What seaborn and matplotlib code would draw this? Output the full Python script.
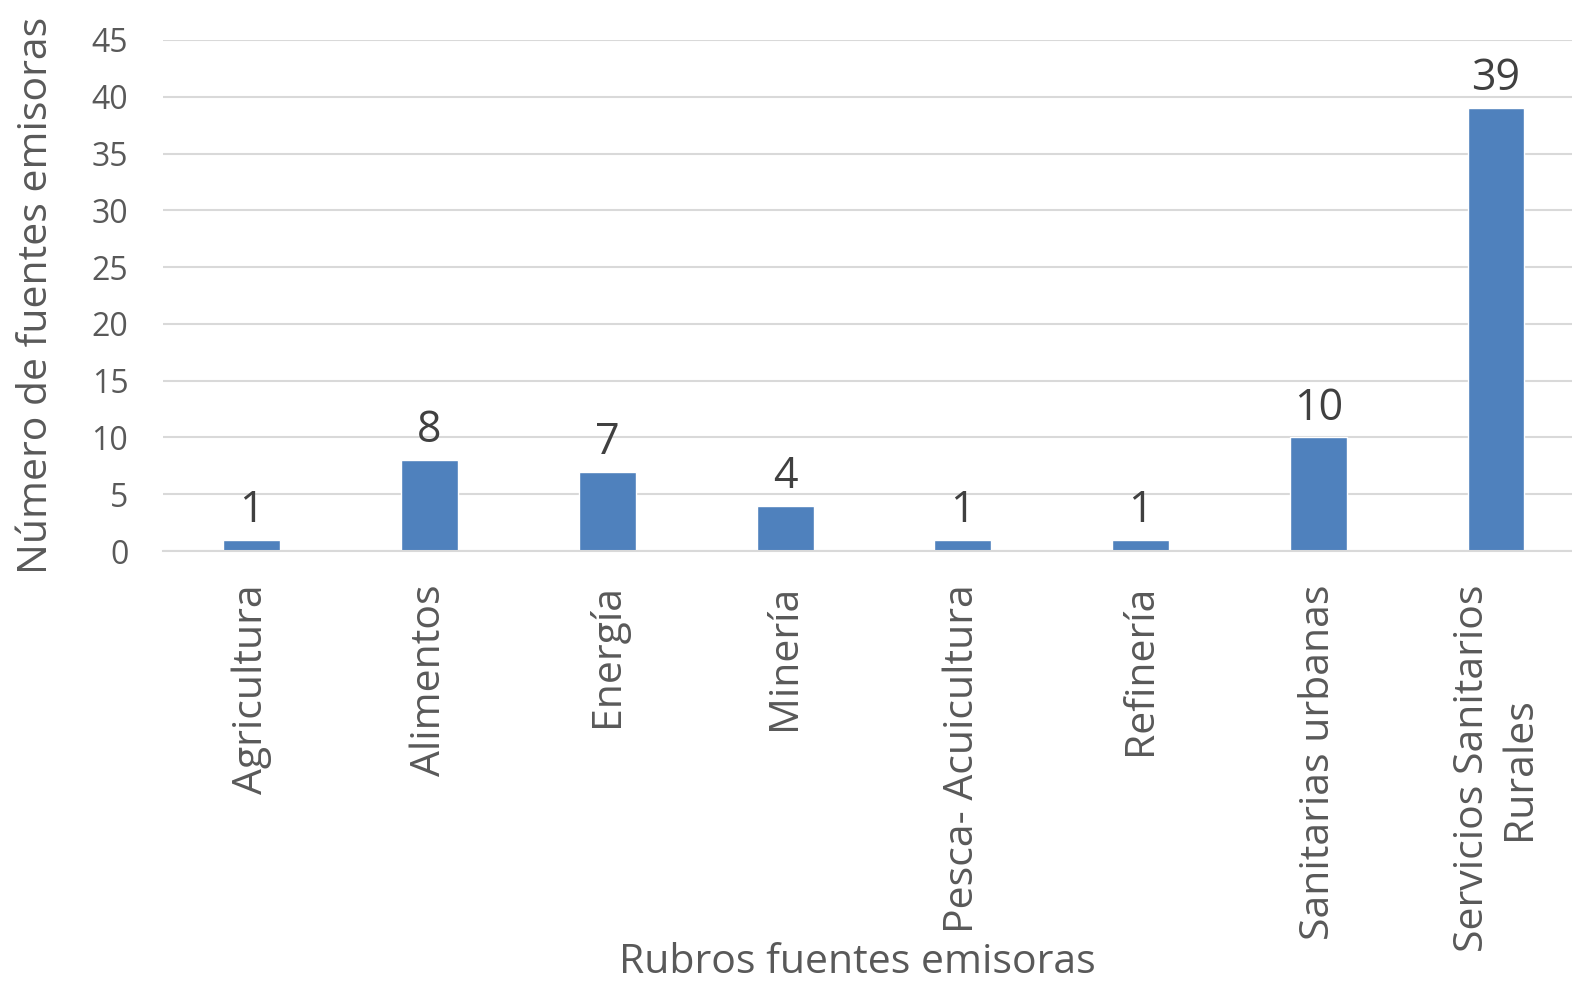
import matplotlib
matplotlib.use("Agg")
import matplotlib.pyplot as plt
import seaborn as sns
import pandas as pd

categories = ["Agricultura", "Alimentos", "Energía", "Minería", "Pesca- Acuicultura",
              "Refinería", "Sanitarias urbanas", "Servicios Sanitarios\nRurales"]
values = [1, 8, 7, 4, 1, 1, 10, 39]
yticks = [0, 5, 10, 15, 20, 25, 30, 35, 40, 45]

sns.set_theme(style="white")
plt.rcParams['font.family'] = ['Open Sans', 'DejaVu Sans']

df = pd.DataFrame({"cat": categories, "val": values})

fig = plt.figure(figsize=(15.72, 9.9), dpi=100)
ax = fig.add_axes([0.1037, 0.4434, 0.9045, 0.5162])

sns.barplot(data=df, x="cat", y="val", color="#4F81BD", saturation=1, width=0.32, ax=ax)

ax.set_xlim(-0.5, len(categories) - 0.5)
ax.set_ylim(0, 45)
ax.set_yticks(yticks)
ax.set_yticklabels([str(t) for t in yticks], fontsize=23, color="#595959")
ax.yaxis.grid(True, color="#d9d9d9", linewidth=1.5)
ax.set_axisbelow(True)
for s in ["top", "right", "left"]:
    ax.spines[s].set_visible(False)
ax.spines["bottom"].set_color("#d9d9d9")
ax.spines["bottom"].set_linewidth(1.5)
ax.tick_params(axis="both", length=0)
ax.tick_params(axis="y", pad=25)

ax.set_xticks(range(len(categories)))
ax.set_xticklabels(categories, rotation=90, fontsize=29.5, color="#595959",
                   ha="center", va="top", multialignment="center")
ax.tick_params(axis="x", pad=24)

ax.bar_label(ax.containers[0], labels=[str(v) for v in values], padding=5,
             fontsize=31, color="#404040")

ax.set_ylabel("Número de fuentes emisoras", fontsize=29.5, color="#595959")
ax.yaxis.set_label_coords(-0.089, 0.5)
ax.yaxis.label.set_va("center")
ax.set_xlabel("Rubros fuentes emisoras", fontsize=29.5, color="#595959")
ax.xaxis.set_label_coords(0.488, -0.805)
ax.xaxis.label.set_va("center")

fig.savefig("out.png", dpi=100)
